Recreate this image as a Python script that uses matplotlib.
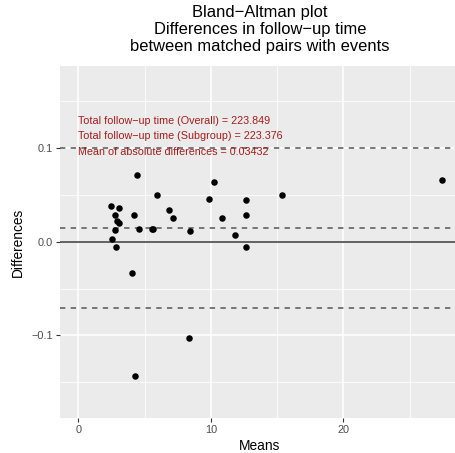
import matplotlib
matplotlib.use("Agg")
import matplotlib.pyplot as plt
import numpy as np
from matplotlib.ticker import MultipleLocator, FuncFormatter

plt.rcParams['font.family'] = ['Liberation Sans', 'DejaVu Sans']

# means / differences of matched pairs
means = [4.41, 10.26, 27.43, 5.94, 15.37, 2.49, 3.07, 9.84, 12.68, 2.77,
         4.20, 6.85, 7.12, 2.94, 3.05, 10.87, 12.68, 2.77, 4.60, 5.56,
         5.60, 8.45, 11.83, 2.57, 2.82, 12.68, 4.03, 8.35, 4.30]
diffs = [0.0708, 0.0633, 0.0658, 0.0495, 0.0495, 0.0384, 0.0356, 0.0452, 0.0448, 0.0288,
         0.0281, 0.0338, 0.0249, 0.0224, 0.0196, 0.0249, 0.0281, 0.0125, 0.0135, 0.0135,
         0.0140, 0.0114, 0.0071, 0.0026, -0.0060, -0.0060, -0.0330, -0.1030, -0.1429]

mean_diff = 0.0149
upper_loa = 0.1002
lower_loa = -0.0707

notes = ["Total follow\u2212up time (Overall) = 223.849",
         "Total follow\u2212up time (Subgroup) = 223.376",
         "Mean of absolute differences = 0.03432"]
note_y = [0.129, 0.1127, 0.096]

W, H = 455, 453
fig = plt.figure(figsize=(W / 100, H / 100), dpi=100)
ax = fig.add_axes([60 / W, (H - 418) / H, 400 / W, (418 - 66) / H])
ax.set_facecolor('#EBEBEB')
for s in ax.spines.values():
    s.set_visible(False)

ax.set_xlim(-1.38, 28.8)
ax.set_ylim(-0.188, 0.1873)

ax.xaxis.set_major_locator(MultipleLocator(10))
ax.xaxis.set_minor_locator(MultipleLocator(5))
ax.yaxis.set_major_locator(MultipleLocator(0.1))
ax.yaxis.set_minor_locator(MultipleLocator(0.05))
ax.grid(which='major', color='white', linewidth=1.1)
ax.grid(which='minor', color='white', linewidth=0.55)
ax.set_axisbelow(True)

ax.yaxis.set_major_formatter(FuncFormatter(lambda v, p: f"{v:.1f}".replace('-', '\u2212')))
ax.tick_params(which='major', length=3, width=0.8, color='#333333',
               labelsize=7.9, labelcolor='#4D4D4D', pad=2)
ax.tick_params(which='minor', length=0)

ax.axhline(0, color='#555555', linewidth=1.3, zorder=2)
for yv in [upper_loa, mean_diff, lower_loa]:
    ax.axhline(yv, color='#555555', linewidth=1.1, linestyle=(0, (3.5, 3.5)), zorder=2)

ax.scatter(means, diffs, s=22, color='black', zorder=3, linewidths=0)

for t, yv in zip(notes, note_y):
    ax.text(0, yv, t, color='#A61C1C', fontsize=7.75, ha='left', va='center')

ax.set_xlabel('Means', fontsize=9.9, labelpad=3)
ax.set_ylabel('Differences', fontsize=9.9, labelpad=5)

fig.text(260 / W, 1 - 5 / H,
         "Bland\u2212Altman plot\nDifferences in follow\u2212up time\nbetween matched pairs with events",
         ha='center', va='top', fontsize=11.9, linespacing=1.15)

fig.savefig('out.png', dpi=100, facecolor='white')
